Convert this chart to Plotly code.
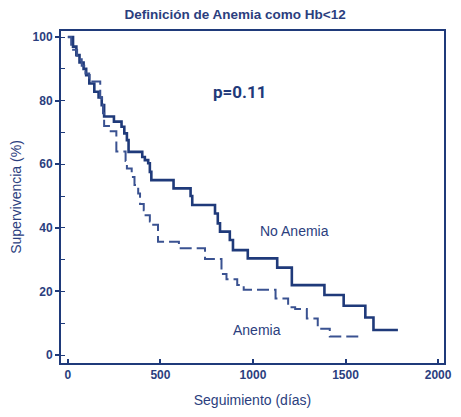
import plotly.graph_objects as go

# Kaplan-Meier step data (days, survival %)
no_anemia_days = [0, 28, 46, 63, 85, 99, 116, 143, 166, 183, 196, 249, 290, 305, 319, 328,
                  402, 416, 434, 443, 451, 571, 663, 672, 795, 810, 822, 875, 892, 972,
                  1131, 1210, 1386, 1490, 1607, 1651, 1783]
no_anemia_surv = [100, 97, 94.3, 92, 90, 88, 85.4, 82.8, 81, 78.6, 75, 73.4, 71.8, 69.7, 67.6, 63.9,
                  62.3, 61.3, 60.3, 57.6, 55, 52.4, 50, 47.2, 44.5, 41.4, 38.8, 36.2, 33, 30.4,
                  27.5, 22, 18.9, 15.5, 11.8, 7.9, 7.9]

anemia_days = [0, 18, 50, 75, 95, 115, 175, 185, 190, 196, 222, 262, 312, 319, 345, 360, 380,
               390, 410, 420, 443, 451, 487, 600, 741, 830, 857, 915, 950, 1122, 1190, 1228,
               1291, 1350, 1415, 1580]
anemia_surv = [100, 96, 93, 91, 88.5, 86, 81, 79.5, 76, 72, 70.4, 64, 61, 58.7, 56, 53.5, 50.8,
               47.5, 45.5, 44, 42, 41, 35.6, 33.6, 30.2, 25.5, 23.8, 22, 20.5, 17.8, 15, 14.5,
               11.5, 8.3, 5.8, 5.8]

x_ticks = [0, 500, 1000, 1500, 2000]
y_ticks = [0, 20, 40, 60, 80, 100]

navy = "#1f3a7a"
text_navy = "#2b3e7e"

fig = go.Figure()
fig.add_trace(go.Scatter(x=no_anemia_days, y=no_anemia_surv, mode="lines",
                         line=dict(shape="hv", color=navy, width=2.6), showlegend=False))
fig.add_trace(go.Scatter(x=anemia_days, y=anemia_surv, mode="lines",
                         line=dict(shape="hv", color="#3a5291", width=2, dash="12px,5px"),
                         showlegend=False))

font_main = "Liberation Sans, Arial, sans-serif"

fig.update_layout(
    width=461, height=417,
    margin=dict(l=61, r=9, t=31, b=54),
    paper_bgcolor="white", plot_bgcolor="white",
    title=dict(text="Definición de Anemia como Hb<12", x=0.51, xanchor="center",
               y=0.966, yanchor="middle",
               font=dict(family=font_main, size=13.5, color=text_navy, weight="bold")),
    xaxis=dict(range=[-37, 2032], tickvals=x_ticks, ticktext=[str(v) for v in x_ticks],
               showgrid=False, zeroline=False, showline=True, mirror=True,
               linecolor=navy, linewidth=2, ticks="inside", ticklen=4, tickwidth=1.5,
               tickcolor=navy,
               tickfont=dict(family=font_main, size=12, color=text_navy, weight="bold"),
               title=dict(text="Seguimiento (días)", standoff=14,
                          font=dict(family=font_main, size=14, color=text_navy))),
    yaxis=dict(range=[-2.5, 101.9], tickvals=y_ticks, ticktext=[str(v) for v in y_ticks],
               showgrid=False, zeroline=False, showline=True, mirror=True,
               linecolor=navy, linewidth=2, ticks="outside", ticklen=4, tickwidth=1.5,
               tickcolor=navy,
               minor=dict(dtick=10, tick0=0, ticks="inside", ticklen=4, tickcolor=navy,
                          tickwidth=1, showgrid=False),
               tickfont=dict(family=font_main, size=12, color=text_navy, weight="bold"),
               title=dict(text="Supervivencia (%)", standoff=8,
                          font=dict(family=font_main, size=14, color=text_navy))),
    annotations=[
        dict(x=931, y=82.7, xref="x", yref="y", text="p=0.11", showarrow=False,
             font=dict(family="Roboto, Liberation Sans, sans-serif",
                       size=17, color=navy, weight="bold")),
        dict(x=1222, y=39, xref="x", yref="y", text="No Anemia", showarrow=False,
             font=dict(family=font_main, size=14, color=text_navy)),
        dict(x=1021, y=7.9, xref="x", yref="y", text="Anemia", showarrow=False,
             font=dict(family=font_main, size=14, color=text_navy)),
    ],
)

fig.write_html("out.html")
